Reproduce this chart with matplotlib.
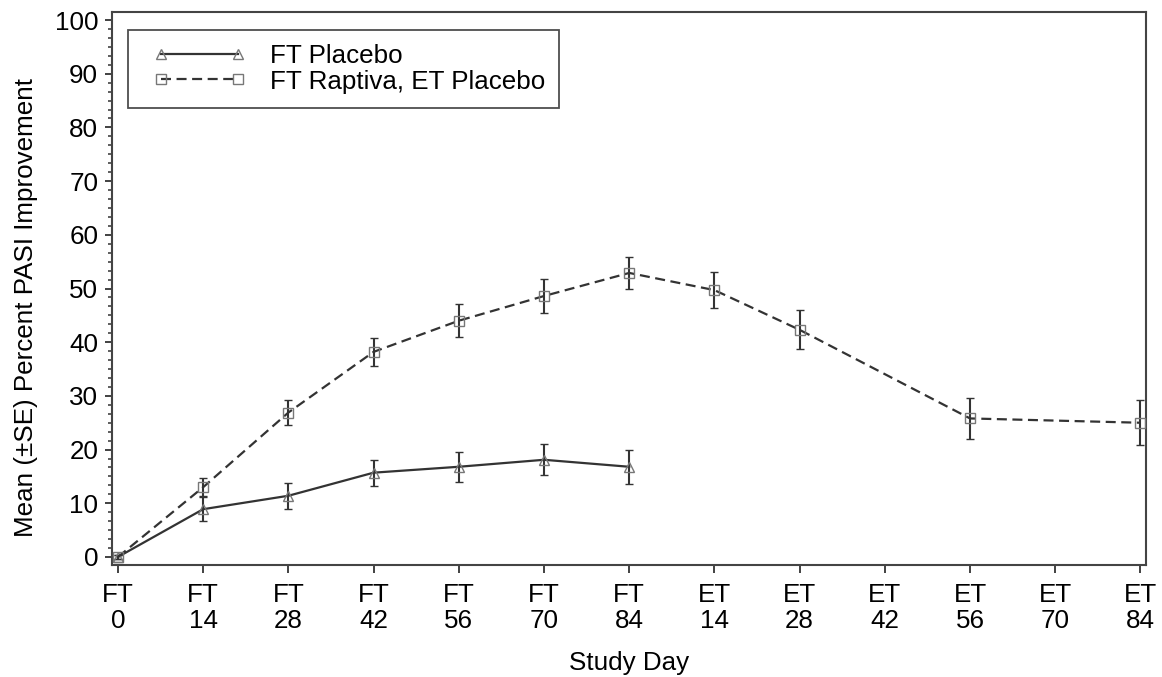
import matplotlib
matplotlib.use("Agg")
import matplotlib.pyplot as plt
from matplotlib.ticker import AutoMinorLocator, MultipleLocator
from matplotlib.legend_handler import HandlerLine2D

plt.rcParams['font.family'] = ['Liberation Sans', 'DejaVu Sans']

# Study visits (Full Trial, then Extension Trial)
visits = ["FT\n0", "FT\n14", "FT\n28", "FT\n42", "FT\n56", "FT\n70", "FT\n84",
          "ET\n14", "ET\n28", "ET\n42", "ET\n56", "ET\n70", "ET\n84"]

# FT Placebo: visit index, mean and SE
placebo_idx = [0, 1, 2, 3, 4, 5, 6]
placebo_mean = [0.0, 8.9, 11.4, 15.7, 16.8, 18.1, 16.8]
placebo_se = [0.3, 2.2, 2.4, 2.45, 2.75, 2.9, 3.15]

# FT Raptiva, ET Placebo: visit index, mean and SE
raptiva_idx = [0, 1, 2, 3, 4, 5, 6, 7, 8, 10, 12]
raptiva_mean = [0.0, 13.0, 26.9, 38.2, 44.0, 48.6, 52.9, 49.7, 42.3, 25.8, 25.0]
raptiva_se = [0.3, 1.7, 2.25, 2.55, 3.05, 3.15, 2.95, 3.3, 3.65, 3.8, 4.15]

line_col = "#333333"
mark_col = "#777777"
fs = 18.7

fig = plt.figure(figsize=(11.62, 6.77), dpi=100)
ax = fig.add_axes([0.0964, 0.1654, 0.8902, 0.8169])

c1 = ax.errorbar(placebo_idx, placebo_mean, yerr=placebo_se, color=line_col, lw=1.6,
                 ecolor=line_col, elinewidth=1.5, capsize=3.0, capthick=1.3,
                 marker="^", markersize=7, markerfacecolor="none",
                 markeredgecolor=mark_col, markeredgewidth=1.0,
                 linestyle="-", label="FT Placebo", zorder=3)
c2 = ax.errorbar(raptiva_idx, raptiva_mean, yerr=raptiva_se, color=line_col, lw=1.6,
                 ecolor=line_col, elinewidth=1.5, capsize=3.0, capthick=1.3,
                 marker="s", markersize=7.5, markerfacecolor="none",
                 markeredgecolor=mark_col, markeredgewidth=1.0,
                 linestyle=(0, (4.5, 2.5)), label="FT Raptiva, ET Placebo", zorder=3)

ax.set_xlim(-0.07, 12.07)
ax.set_ylim(-1.5, 101.5)
ax.set_xticks(range(len(visits)))
ax.set_xticklabels(visits, fontsize=fs, linespacing=1.1)
ax.yaxis.set_major_locator(MultipleLocator(10))
ax.yaxis.set_minor_locator(AutoMinorLocator(6))
ax.tick_params(axis="both", which="major", direction="out",
               width=1.3, color=line_col, labelsize=fs)
ax.tick_params(axis="x", which="major", length=6, pad=7)
ax.tick_params(axis="y", which="major", length=5, pad=5)
ax.tick_params(axis="y", which="minor", direction="out", length=3,
               width=1.1, color=line_col)
for s in ax.spines.values():
    s.set_linewidth(1.5)
    s.set_color("#444444")

ax.set_xlabel("Study Day", fontsize=fs, labelpad=13)
ax.set_ylabel("Mean (\u00b1SE) Percent PASI Improvement", fontsize=fs, labelpad=12)
ax.yaxis.label.set_y(0.466)

handles = [c1.lines[0], c2.lines[0]]
labels = ["FT Placebo", "FT Raptiva, ET Placebo"]
leg = ax.legend(handles, labels, loc="upper left", bbox_to_anchor=(0.0155, 0.9675),
                borderaxespad=0, fontsize=fs, frameon=True, fancybox=False,
                handlelength=4.4, handletextpad=0.5, labelspacing=0.05,
                borderpad=0.55,
                handler_map={h: HandlerLine2D(numpoints=2, marker_pad=0.7)
                             for h in handles})
leg.get_frame().set_edgecolor("#222222")
leg.get_frame().set_linewidth(1.3)

fig.savefig("out.png", dpi=100)
